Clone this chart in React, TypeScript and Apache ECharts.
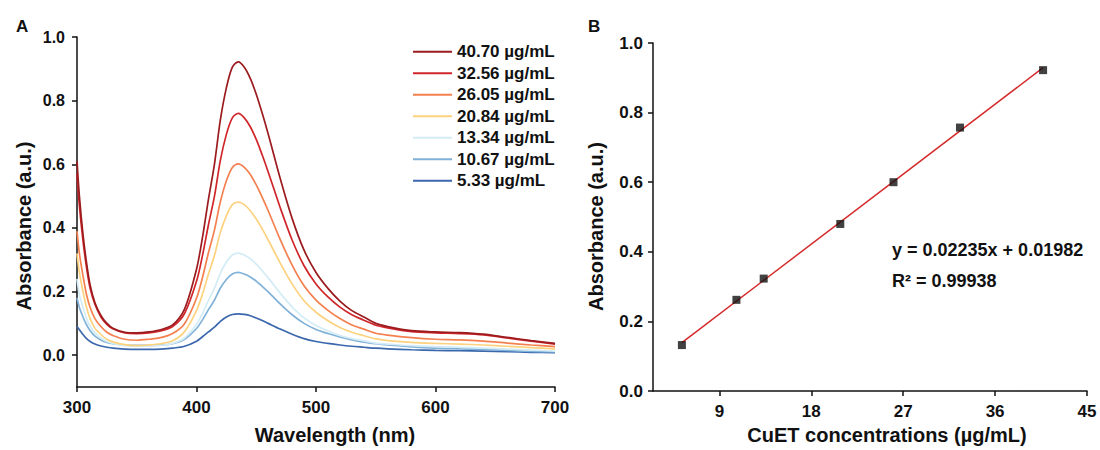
import React, { useEffect, useRef } from "react";
import * as echarts from "echarts";

// ---------- Panel A: UV-vis spectra ----------
const wavelengths = [
  300, 302, 305, 308, 311, 315, 320, 325, 330, 340, 350, 360, 370, 380, 390,
  400, 405, 410, 415, 420, 425, 430, 435, 440, 445, 450, 455, 460, 470, 480,
  490, 500, 510, 520, 530, 540, 550, 560, 580, 600, 620, 640, 660, 680, 700,
];

const abs4070 = [
  0.61, 0.5, 0.38, 0.29, 0.22, 0.165, 0.125, 0.1, 0.085, 0.072, 0.07, 0.073, 0.08, 0.095, 0.145,
  0.27, 0.37, 0.49, 0.6, 0.74, 0.84, 0.905, 0.922, 0.905, 0.87, 0.82, 0.76, 0.695, 0.556, 0.43,
  0.33, 0.26, 0.21, 0.17, 0.14, 0.12, 0.1, 0.09, 0.077, 0.073, 0.071, 0.066, 0.056, 0.046, 0.037,
];
const abs3256 = [
  0.57, 0.47, 0.36, 0.275, 0.21, 0.16, 0.12, 0.097, 0.083, 0.07, 0.068, 0.07, 0.076, 0.09, 0.131,
  0.232, 0.313, 0.41, 0.499, 0.613, 0.694, 0.746, 0.76, 0.746, 0.718, 0.678, 0.629, 0.576, 0.464, 0.362,
  0.281, 0.224, 0.183, 0.151, 0.127, 0.11, 0.094, 0.086, 0.074, 0.07, 0.068, 0.064, 0.054, 0.044, 0.035,
];
const abs2605 = [
  0.39, 0.32, 0.25, 0.19, 0.15, 0.115, 0.09, 0.072, 0.062, 0.05, 0.047, 0.05, 0.055, 0.068, 0.099,
  0.179, 0.244, 0.322, 0.393, 0.483, 0.548, 0.59, 0.601, 0.59, 0.568, 0.535, 0.496, 0.454, 0.364, 0.283,
  0.218, 0.173, 0.141, 0.115, 0.095, 0.082, 0.069, 0.063, 0.055, 0.05, 0.048, 0.044, 0.038, 0.032, 0.027,
];
const abs2084 = [
  0.32, 0.26, 0.2, 0.15, 0.115, 0.085, 0.065, 0.05, 0.042, 0.033, 0.03, 0.032, 0.036, 0.045, 0.074,
  0.14, 0.192, 0.255, 0.313, 0.386, 0.438, 0.473, 0.481, 0.473, 0.454, 0.428, 0.397, 0.362, 0.29, 0.224,
  0.171, 0.135, 0.108, 0.087, 0.072, 0.061, 0.051, 0.046, 0.04, 0.037, 0.035, 0.032, 0.028, 0.024, 0.02,
];
const abs1334 = [
  0.24, 0.19, 0.15, 0.115, 0.09, 0.07, 0.054, 0.043, 0.037, 0.03, 0.028, 0.029, 0.031, 0.037, 0.054,
  0.097, 0.131, 0.172, 0.21, 0.258, 0.293, 0.315, 0.321, 0.315, 0.303, 0.286, 0.265, 0.243, 0.195, 0.152,
  0.117, 0.093, 0.076, 0.062, 0.052, 0.045, 0.038, 0.035, 0.03, 0.027, 0.025, 0.022, 0.019, 0.016, 0.013,
];
const abs1067 = [
  0.18, 0.15, 0.12, 0.095, 0.077, 0.06, 0.048, 0.04, 0.036, 0.032, 0.031, 0.031, 0.032, 0.036, 0.05,
  0.084, 0.111, 0.143, 0.173, 0.211, 0.238, 0.255, 0.26, 0.255, 0.246, 0.233, 0.216, 0.199, 0.161, 0.127,
  0.1, 0.081, 0.068, 0.057, 0.048, 0.041, 0.036, 0.032, 0.026, 0.022, 0.02, 0.018, 0.015, 0.012, 0.01,
];
const abs533 = [
  0.09, 0.08, 0.065, 0.052, 0.043, 0.035, 0.029, 0.025, 0.022, 0.019, 0.018, 0.018, 0.019, 0.022, 0.028,
  0.044, 0.058, 0.073, 0.088, 0.106, 0.12, 0.128, 0.13, 0.128, 0.124, 0.117, 0.109, 0.1, 0.082, 0.066,
  0.052, 0.043, 0.037, 0.032, 0.028, 0.025, 0.022, 0.02, 0.017, 0.015, 0.014, 0.013, 0.011, 0.009, 0.008,
];

const seriesNames = [
  "40.70 µg/mL",
  "32.56 µg/mL",
  "26.05 µg/mL",
  "20.84 µg/mL",
  "13.34 µg/mL",
  "10.67 µg/mL",
  "5.33 µg/mL",
];
const seriesValues = [abs4070, abs3256, abs2605, abs2084, abs1334, abs1067, abs533];
const seriesColors = ["#9b1b1e", "#d0262a", "#f4804f", "#fdd27e", "#d3ecf5", "#80b1d8", "#3b67ad"];

const leftYTicks = [0, 0.2, 0.4, 0.6, 0.8, 1.0];

// ---------- Panel B: calibration ----------
const concentrations = [5.33, 10.67, 13.34, 20.84, 26.05, 32.56, 40.7];
const peakAbsorbance = [0.132, 0.262, 0.323, 0.48, 0.6, 0.757, 0.922];
const fitX = [5.33, 40.7];
const fitY = [0.139, 0.929];
const rightXTicks = [9, 18, 27, 36, 45];
const equationText = "y = 0.02235x + 0.01982";
const r2Text = "R² = 0.99938";

const FONT = "'Liberation Sans', Arial, Helvetica, sans-serif";
const INK = "#111111";

export default function App() {
  const ref = useRef<HTMLDivElement>(null);

  useEffect(() => {
    document.body.style.margin = "0";
    if (!ref.current) return;
    const chart = echarts.init(ref.current, null, { renderer: "svg" });

    const axisLine = { show: true, onZero: false, lineStyle: { color: INK, width: 1.5 } };
    const axisTick = { show: true, inside: false, length: 5, lineStyle: { color: INK, width: 1.5 } };
    const nameStyle = { fontFamily: FONT, fontWeight: "bold", fontSize: 20, color: INK };
    const label16 = { fontFamily: FONT, fontWeight: "bold", fontSize: 16, color: INK };
    const label17 = { fontFamily: FONT, fontWeight: "bold", fontSize: 17, color: INK };

    const spectra = seriesNames.map((name, i) => ({
      name,
      type: "line",
      xAxisIndex: 0,
      yAxisIndex: 0,
      showSymbol: false,
      smooth: 0.3,
      color: seriesColors[i],
      lineStyle: { width: 1.7, color: seriesColors[i] },
      data: wavelengths.map((w, j) => [w, seriesValues[i][j]]),
      z: 10 - i,
    }));

    chart.setOption({
      animation: false,
      backgroundColor: "#ffffff",
      grid: [
        { left: 77, top: 37, width: 478, height: 353 },
        { left: 653, top: 43, width: 434, height: 350 },
      ],
      legend: {
        data: seriesNames,
        orient: "vertical",
        left: 413,
        top: 41,
        padding: 0,
        itemGap: 0,
        itemWidth: 39,
        itemHeight: 2,
        icon: "rect",
        textStyle: { fontFamily: FONT, fontWeight: "bold", fontSize: 17, color: INK, lineHeight: 21.5 },
      },
      xAxis: [
        {
          type: "value",
          gridIndex: 0,
          min: 300,
          max: 700,
          interval: 100,
          axisLine,
          axisTick,
          splitLine: { show: false },
          name: "Wavelength (nm)",
          nameLocation: "middle",
          nameGap: 38,
          nameTextStyle: { ...nameStyle, padding: [0, 0, 0, 38] },
          axisLabel: { ...label17, margin: 12 },
        },
        {
          type: "value",
          gridIndex: 1,
          min: 2.5,
          max: 45,
          axisLine,
          splitLine: { show: false },
          name: "CuET concentrations (µg/mL)",
          nameLocation: "middle",
          nameGap: 34,
          nameTextStyle: { ...nameStyle, padding: [0, 0, 0, 34] },
          axisTick: { ...axisTick, customValues: rightXTicks },
          axisLabel: { ...label17, margin: 12, customValues: rightXTicks },
        },
      ],
      yAxis: [
        {
          type: "value",
          gridIndex: 0,
          min: -0.1,
          max: 1.0,
          axisLine,
          splitLine: { show: false },
          name: "Absorbance (a.u.)",
          nameLocation: "middle",
          nameGap: 43,
          nameTextStyle: { ...nameStyle, padding: [0, 28, 0, 0] },
          axisTick: { ...axisTick, customValues: leftYTicks },
          axisLabel: {
            ...label16,
            margin: 12,
            customValues: leftYTicks,
            formatter: (v: number) => v.toFixed(1),
          },
        },
        {
          type: "value",
          gridIndex: 1,
          min: 0,
          max: 1.0,
          interval: 0.2,
          axisLine,
          axisTick,
          splitLine: { show: false },
          name: "Absorbance (a.u.)",
          nameLocation: "middle",
          nameGap: 47,
          nameTextStyle: { ...nameStyle, padding: [0, 19, 0, 0] },
          axisLabel: { ...label17, margin: 10, formatter: (v: number) => v.toFixed(1) },
        },
      ],
      series: [
        ...spectra,
        {
          name: "fit",
          type: "line",
          xAxisIndex: 1,
          yAxisIndex: 1,
          showSymbol: false,
          lineStyle: { color: "#d42a2a", width: 1.5 },
          data: fitX.map((x, i) => [x, fitY[i]]),
          z: 5,
        },
        {
          name: "points",
          type: "scatter",
          xAxisIndex: 1,
          yAxisIndex: 1,
          symbol: "rect",
          symbolSize: 8,
          itemStyle: { color: "#111111" },
          data: concentrations.map((x, i) => [x, peakAbsorbance[i]]),
          z: 6,
        },
      ],
      graphic: [
        {
          type: "text",
          left: 16,
          top: 18,
          style: { text: "A", font: `bold 17px ${FONT}`, fill: INK },
        },
        {
          type: "text",
          left: 588,
          top: 18,
          style: { text: "B", font: `bold 17px ${FONT}`, fill: INK },
        },
        {
          type: "text",
          left: 892,
          top: 241,
          style: { text: equationText, font: `bold 18px ${FONT}`, fill: INK },
        },
        {
          type: "text",
          left: 892,
          top: 272,
          style: { text: r2Text, font: `bold 18px ${FONT}`, fill: INK },
        },
      ],
    });

    return () => chart.dispose();
  }, []);

  return <div ref={ref} style={{ width: 1100, height: 450 }} />;
}
